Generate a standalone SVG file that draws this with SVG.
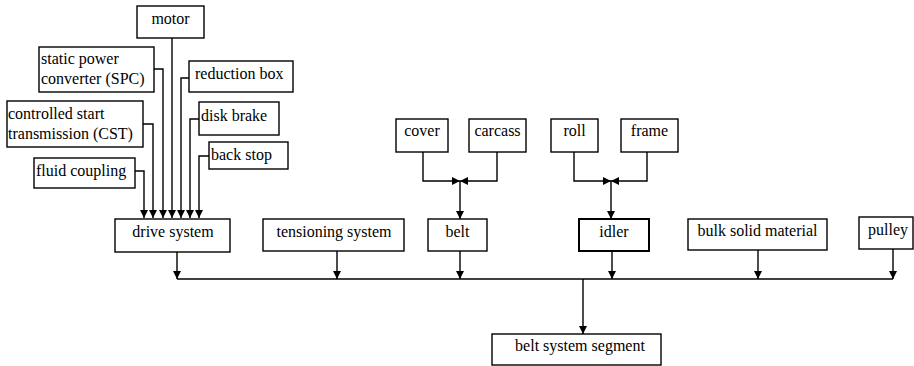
<svg xmlns="http://www.w3.org/2000/svg" width="914" height="366" viewBox="0 0 914 366">
<style>
rect{fill:#fff;stroke:#000;stroke-width:1.4}
text{font-family:'Times New Roman',Times,Tinos,'Liberation Serif','Noto Serif','DejaVu Serif',serif;font-size:16px;fill:#000}
.c{text-anchor:middle}
.ln{fill:none;stroke:#000;stroke-width:1.4}
</style>
<defs>
<marker id="ah" viewBox="0 0 10 10" refX="10" refY="5" markerWidth="8" markerHeight="8" markerUnits="userSpaceOnUse" orient="auto">
<path d="M0,0L10,5L0,10z" fill="#000"/>
</marker>
</defs>
<rect width="914" height="366" style="fill:#fff;stroke:none"/>
<g id="motor"><rect x="137" y="6" width="67" height="32"/><text x="170.5" y="24" class="c">motor</text></g>
<g id="spc"><rect x="39" y="47" width="115" height="45"/><text x="41" y="64">static power</text><text x="41" y="84">converter (SPC)</text></g>
<g id="reduction"><rect x="189" y="61" width="104" height="31"/><text x="195" y="79">reduction box</text></g>
<g id="cst"><rect x="7" y="101" width="136" height="46"/><text x="8" y="119">controlled start</text><text x="8" y="139">transmission (CST)</text></g>
<g id="disk"><rect x="199" y="102" width="80" height="33"/><text x="201" y="121">disk brake</text></g>
<g id="backstop"><rect x="209" y="142" width="79" height="27"/><text x="211" y="160">back stop</text></g>
<g id="fluid"><rect x="34" y="158" width="101" height="30"/><text x="36" y="176">fluid coupling</text></g>
<g id="drive"><rect x="115" y="219" width="115" height="33"/><text x="173" y="237" class="c">drive system</text></g>
<g id="tension"><rect x="263" y="219" width="141" height="32"/><text x="334" y="237" class="c">tensioning system</text></g>
<g id="belt"><rect x="428" y="219" width="59" height="32"/><text x="457.5" y="237" class="c">belt</text></g>
<g id="idler"><rect x="579" y="219" width="70" height="32" style="stroke-width:2"/><text x="614" y="237" class="c">idler</text></g>
<g id="bulk"><rect x="688" y="219" width="139" height="31"/><text x="757.5" y="236" class="c">bulk solid material</text></g>
<g id="pulley"><rect x="859" y="217" width="54" height="32"/><text x="868" y="235">pulley</text></g>
<g id="cover"><rect x="396" y="119" width="52" height="33"/><text x="422" y="136" class="c">cover</text></g>
<g id="carcass"><rect x="469" y="119" width="57" height="33"/><text x="497.5" y="136" class="c">carcass</text></g>
<g id="roll"><rect x="551" y="119" width="47" height="33"/><text x="574.5" y="136" class="c">roll</text></g>
<g id="frame"><rect x="621" y="119" width="57" height="33"/><text x="649.5" y="136" class="c">frame</text></g>
<g id="segment"><rect x="492" y="334" width="169" height="31"/><text x="580" y="351" class="c">belt system segment</text></g>
<g id="connectors">
<path class="ln" d="M172,38V218" marker-end="url(#ah)"/>
<path class="ln" d="M154,69H163V218" marker-end="url(#ah)"/>
<path class="ln" d="M189,78H181V218" marker-end="url(#ah)"/>
<path class="ln" d="M143,124H153V218" marker-end="url(#ah)"/>
<path class="ln" d="M199,119H190V218" marker-end="url(#ah)"/>
<path class="ln" d="M209,156H199V218" marker-end="url(#ah)"/>
<path class="ln" d="M135,171H144V218" marker-end="url(#ah)"/>
<path class="ln" d="M423,152V181H460" marker-end="url(#ah)"/>
<path class="ln" d="M497,152V181H460" marker-end="url(#ah)"/>
<path class="ln" d="M460,181V219" marker-end="url(#ah)"/>
<path class="ln" d="M574,152V181H611" marker-end="url(#ah)"/>
<path class="ln" d="M647,152V181H611" marker-end="url(#ah)"/>
<path class="ln" d="M611,181V219" marker-end="url(#ah)"/>
<path class="ln" d="M177,279H893"/>
<path class="ln" d="M177,252V279" marker-end="url(#ah)"/>
<path class="ln" d="M337,251V279" marker-end="url(#ah)"/>
<path class="ln" d="M460,251V279" marker-end="url(#ah)"/>
<path class="ln" d="M612,251V279" marker-end="url(#ah)"/>
<path class="ln" d="M758,250V279" marker-end="url(#ah)"/>
<path class="ln" d="M893,249V279" marker-end="url(#ah)"/>
<path class="ln" d="M583,279V334" marker-end="url(#ah)"/>
</g>
</svg>
